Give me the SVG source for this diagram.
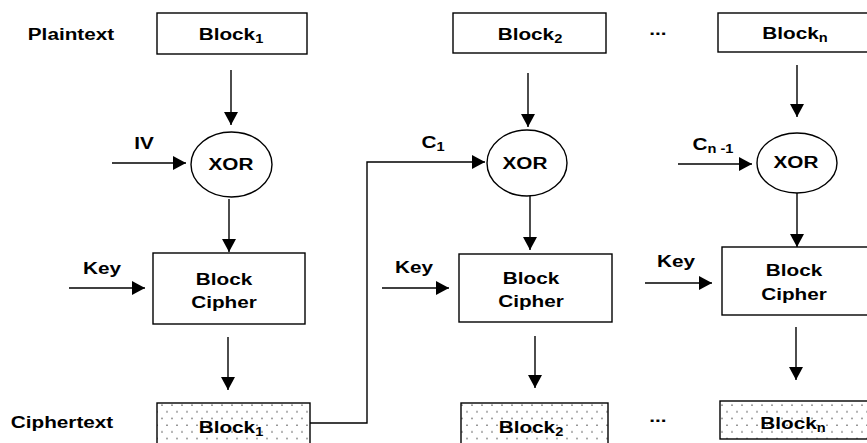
<svg xmlns="http://www.w3.org/2000/svg" width="867" height="443" viewBox="0 0 867 443">
<defs>
<marker id="ah" markerUnits="userSpaceOnUse" markerWidth="14" markerHeight="14" viewBox="0 0 13 14" refX="13" refY="7" orient="auto">
<path d="M0,0 L13,7 L0,14 Z" fill="#000"/>
</marker>
<pattern id="dots" patternUnits="userSpaceOnUse" width="10" height="13.4">
<rect width="10" height="13.4" fill="#fff"/>
<circle cx="2" cy="3" r="0.7" fill="#111"/>
<circle cx="7" cy="9.7" r="0.7" fill="#111"/>
</pattern>
<style>
text{font-family:"Liberation Sans",Arial,sans-serif;font-weight:bold;font-size:17px;fill:#000}
.m{text-anchor:middle}
.box{fill:#fff;stroke:#000;stroke-width:1.4}
.cb{fill:url(#dots);stroke:#000;stroke-width:1.4}
.ar{fill:none;stroke:#000;stroke-width:1.4;marker-end:url(#ah)}
.sub{font-size:12px}
</style>
</defs>
<rect width="867" height="443" fill="#fff"/>

<g id="labels">
<text transform="translate(71,40) scale(1.22,1)" class="m">Plaintext</text>
<text transform="translate(62,428) scale(1.22,1)" class="m">Ciphertext</text>
<text transform="translate(658,35) scale(1.22,1)" class="m">...</text>
<text transform="translate(658,422) scale(1.22,1)" class="m">...</text>
<text transform="translate(144,149) scale(1.22,1)" class="m">IV</text>
<text transform="translate(433,148) scale(1.22,1)" class="m">C<tspan class="sub" dy="3">1</tspan></text>
<text transform="translate(713,150) scale(1.22,1)" class="m">C<tspan class="sub" dy="3">n -1</tspan></text>
<text transform="translate(102,274) scale(1.22,1)" class="m">Key</text>
<text transform="translate(414,273) scale(1.22,1)" class="m">Key</text>
<text transform="translate(676,267) scale(1.22,1)" class="m">Key</text>
</g>

<g id="p1">
<rect class="box" x="157" y="13" width="150" height="41"/>
<text transform="translate(231,40) scale(1.22,1)" class="m">Block<tspan class="sub" dy="3">1</tspan></text>
</g>
<g id="p2">
<rect class="box" x="453" y="13" width="153" height="40"/>
<text transform="translate(530,40) scale(1.22,1)" class="m">Block<tspan class="sub" dy="3">2</tspan></text>
</g>
<g id="pn">
<rect class="box" x="718" y="13" width="152" height="39"/>
<text transform="translate(795,39) scale(1.22,1)" class="m">Block<tspan class="sub" dy="3">n</tspan></text>
</g>

<g id="x1">
<ellipse class="box" cx="231.5" cy="164.5" rx="40.5" ry="32.5"/>
<text transform="translate(231,170) scale(1.22,1)" class="m">XOR</text>
</g>
<g id="x2">
<ellipse class="box" cx="527" cy="163" rx="40" ry="33"/>
<text transform="translate(525,169) scale(1.22,1)" class="m">XOR</text>
</g>
<g id="x3">
<ellipse class="box" cx="797" cy="163" rx="40" ry="30"/>
<text transform="translate(796,168) scale(1.22,1)" class="m">XOR</text>
</g>

<g id="bc1">
<rect class="box" x="153" y="253" width="152" height="71"/>
<text transform="translate(224,285) scale(1.22,1)" class="m">Block</text>
<text transform="translate(224,308) scale(1.22,1)" class="m">Cipher</text>
</g>
<g id="bc2">
<rect class="box" x="459" y="254" width="153" height="68"/>
<text transform="translate(531,284) scale(1.22,1)" class="m">Block</text>
<text transform="translate(531,307) scale(1.22,1)" class="m">Cipher</text>
</g>
<g id="bc3">
<rect class="box" x="722" y="247" width="150" height="68"/>
<text transform="translate(794,276) scale(1.22,1)" class="m">Block</text>
<text transform="translate(794,300) scale(1.22,1)" class="m">Cipher</text>
</g>

<g id="c1">
<rect class="cb" x="157" y="403" width="153" height="44"/>
<text transform="translate(231,433) scale(1.22,1)" class="m">Block<tspan class="sub" dy="3">1</tspan></text>
</g>
<g id="c2">
<rect class="cb" x="461" y="403" width="147" height="44"/>
<text transform="translate(531,433) scale(1.22,1)" class="m">Block<tspan class="sub" dy="3">2</tspan></text>
</g>
<g id="cn">
<rect class="cb" x="720" y="401" width="150" height="38"/>
<text transform="translate(793,429) scale(1.22,1)" class="m">Block<tspan class="sub" dy="3">n</tspan></text>
</g>

<g id="connectors">
<line class="ar" x1="231" y1="70" x2="231" y2="125"/>
<line class="ar" x1="112" y1="163" x2="186" y2="163"/>
<line class="ar" x1="229" y1="199" x2="229" y2="252"/>
<line class="ar" x1="69" y1="288" x2="145" y2="288"/>
<line class="ar" x1="228" y1="337" x2="228" y2="390"/>
<polyline class="ar" points="310,423 367,423 367,162 485,162"/>
<line class="ar" x1="528" y1="73" x2="528" y2="127"/>
<line class="ar" x1="530" y1="196" x2="530" y2="250"/>
<line class="ar" x1="382" y1="288" x2="449" y2="288"/>
<line class="ar" x1="535" y1="336" x2="535" y2="388"/>
<line class="ar" x1="797" y1="65" x2="797" y2="117"/>
<line class="ar" x1="678" y1="164" x2="752" y2="164"/>
<line class="ar" x1="797" y1="193" x2="797" y2="247"/>
<line class="ar" x1="645" y1="283" x2="712" y2="283"/>
<line class="ar" x1="796" y1="327" x2="796" y2="380"/>
</g>
</svg>
